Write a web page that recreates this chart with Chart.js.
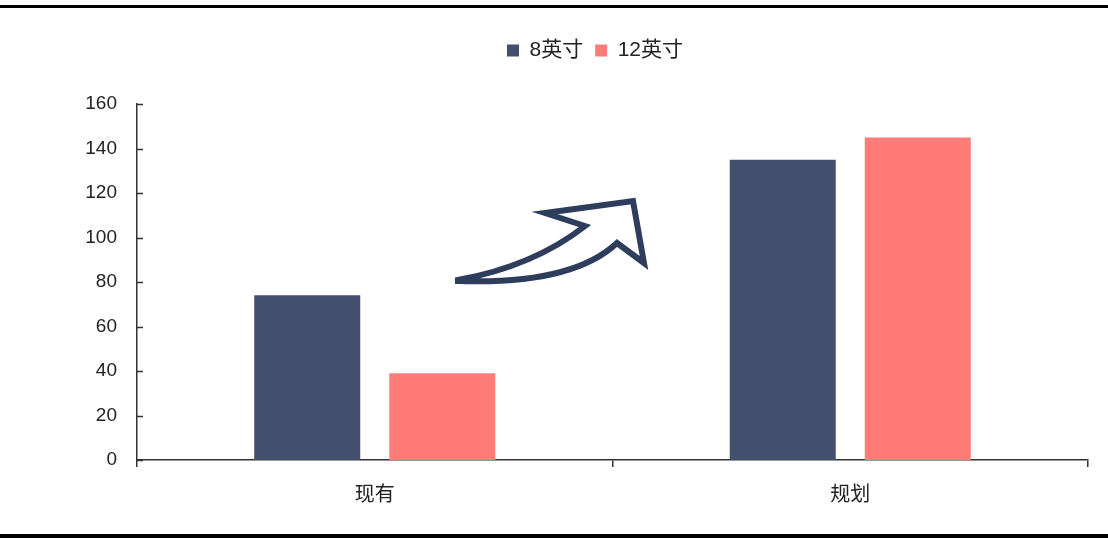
<!DOCTYPE html>
<html>
<head>
<meta charset="utf-8">
<script src="https://cdn.jsdelivr.net/npm/chart.js@4/dist/chart.umd.min.js"></script>
<style>
  html, body { margin: 0; padding: 0; background: #fff; }
  #wrap { position: relative; width: 1108px; height: 538px; }
  .rule { position: absolute; left: 0; width: 1108px; height: 3px; background: #000; }
  canvas { position: absolute; left: 0; top: 0; }
</style>
</head>
<body>
<div id="wrap">
  <canvas id="chart" width="1108" height="538"></canvas>
  <div class="rule" style="top:5px"></div>
  <div class="rule" style="top:534px;height:4px"></div>
</div>
<script>
const categories = ['现有', '规划'];
const inch8 = [74, 135];
const inch12 = [39, 145];
const seriesNames = ['8英寸', '12英寸'];
const yTicks = [0, 20, 40, 60, 80, 100, 120, 140, 160];

const FONT = '"Liberation Sans", Arial, "Noto Sans CJK SC", sans-serif';
const NAVY = '#444F6E';
const PINK = '#FF7B77';

// legend in the original sits a bit right of the canvas centre
const legendShift = {
  id: 'legendShift',
  afterLayout(chart) {
    chart.legend.left = 102;
  }
};

// short inward tick marks on the y axis + the decorative arrow
const extras = {
  id: 'extras',
  afterDraw(chart) {
    const ctx = chart.ctx;
    const y = chart.scales.y;
    ctx.save();
    ctx.strokeStyle = '#333';
    ctx.lineWidth = 1.5;
    yTicks.forEach(v => {
      const py = Math.round(y.getPixelForValue(v)) + 0.5;
      ctx.beginPath();
      ctx.moveTo(y.right, py);
      ctx.lineTo(y.right + 6, py);
      ctx.stroke();
    });

    // arrow
    ctx.beginPath();
    ctx.moveTo(458, 280);
    ctx.quadraticCurveTo(534, 266, 585, 226);
    ctx.lineTo(545, 213);
    ctx.lineTo(633, 201);
    ctx.lineTo(644, 263);
    ctx.lineTo(617, 243);
    ctx.quadraticCurveTo(572, 285, 458, 281);
    ctx.closePath();
    ctx.fillStyle = '#fff';
    ctx.fill();
    ctx.lineWidth = 6;
    ctx.lineJoin = 'miter';
    ctx.strokeStyle = '#2E3D5C';
    ctx.stroke();
    ctx.restore();
  }
};

new Chart(document.getElementById('chart'), {
  type: 'bar',
  data: {
    labels: categories,
    datasets: [
      { label: seriesNames[0], data: inch8, backgroundColor: NAVY },
      { label: seriesNames[1], data: inch12, backgroundColor: PINK }
    ]
  },
  options: {
    responsive: false,
    animation: false,
    devicePixelRatio: 1,
    categoryPercentage: 0.568,
    barPercentage: 0.785,
    layout: { padding: { top: 28, right: 20, left: 0, bottom: 0 } },
    plugins: {
      tooltip: { enabled: false },
      legend: {
        position: 'top',
        weight: 3000,
        labels: {
          boxWidth: 12,
          boxHeight: 12,
          padding: 12,
          color: '#222',
          font: { family: FONT, size: 21 }
        }
      },
      title: {
        display: true,
        text: ' ',
        font: { size: 10, lineHeight: 1 },
        padding: { top: 0, bottom: 23 }
      }
    },
    scales: {
      x: {
        offset: true,
        grid: {
          offset: true,
          drawOnChartArea: false,
          drawTicks: true,
          tickLength: 7,
          color: '#333',
          lineWidth: 1.5
        },
        border: { display: true, color: '#333', width: 1.5 },
        ticks: {
          color: '#222',
          padding: 16,
          font: { family: FONT, size: 20 }
        },
        afterFit(scale) { scale.height = 78; }
      },
      y: {
        min: 0,
        max: 160,
        afterBuildTicks(scale) { scale.ticks = yTicks.map(v => ({ value: v })); },
        grid: { display: false, drawTicks: false },
        border: { display: true, color: '#333', width: 1.5 },
        ticks: {
          color: '#222',
          padding: 20,
          font: { family: FONT, size: 19 }
        },
        afterFit(scale) { scale.width = 137; }
      }
    }
  },
  plugins: [legendShift, extras]
});
</script>
</body>
</html>
